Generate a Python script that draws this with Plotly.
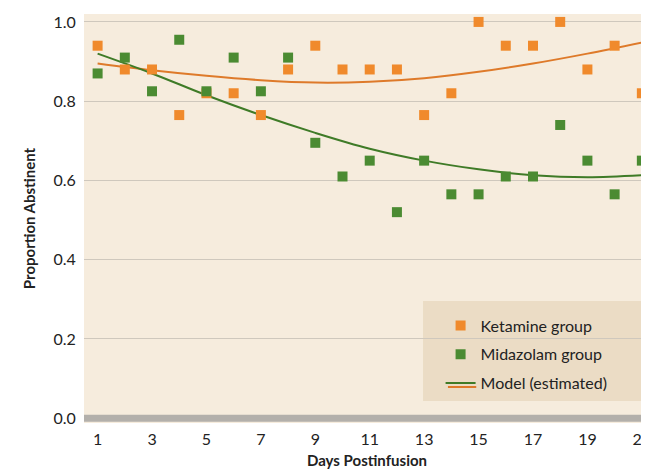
import plotly.graph_objects as go

days = list(range(1, 22))
ketamine = [0.94, 0.88, 0.88, 0.765, 0.82, 0.82, 0.765, 0.88, 0.94, 0.88, 0.88,
            0.88, 0.765, 0.82, 1.0, 0.94, 0.94, 1.0, 0.88, 0.94, 0.82]
midazolam = [0.87, 0.91, 0.825, 0.955, 0.825, 0.91, 0.825, 0.91, 0.695, 0.61, 0.65,
             0.52, 0.65, 0.565, 0.565, 0.61, 0.61, 0.74, 0.65, 0.565, 0.65]

model_days = [1, 3, 5, 7, 9, 11, 13, 15, 17, 19, 21]
ket_model = [0.895, 0.878, 0.864, 0.853, 0.847, 0.849, 0.858, 0.874, 0.895, 0.92, 0.948]
mid_model = [0.92, 0.87, 0.815, 0.765, 0.72, 0.68, 0.65, 0.628, 0.613, 0.608, 0.613]

orange = "#f08a2c"
green = "#4b8b32"
orange_line = "#de7a2a"
green_line = "#3f7b27"

fig = go.Figure()
fig.add_trace(go.Scatter(x=model_days, y=ket_model, mode="lines", line=dict(color=orange_line, width=2, shape="spline"),
                         showlegend=False))
fig.add_trace(go.Scatter(x=model_days, y=mid_model, mode="lines", line=dict(color=green_line, width=2, shape="spline"),
                         showlegend=False))
fig.add_trace(go.Scatter(x=days, y=ketamine, mode="markers", name="Ketamine group", legendgroup="a",
                         marker=dict(symbol="square", size=10, color=orange)))
fig.add_trace(go.Scatter(x=days, y=midazolam, mode="markers", name="Midazolam group", legendgroup="b",
                         marker=dict(symbol="square", size=10, color=green)))
fig.add_trace(go.Scatter(x=[None], y=[None], mode="lines", name="Model (estimated)", legendgroup="c",
                         line=dict(color=green_line, width=2)))

fig.add_shape(type="line", xref="paper", x0=0, x1=1, y0=0, y1=0, line=dict(color="#b3b0ab", width=7))
# legend box
fig.add_shape(type="rect", xref="paper", yref="paper", x0=0.599, x1=1, y0=0.054, y1=0.298,
              fillcolor="#ebdcc5", line=dict(width=0), layer="below")
# orange model swatch under the green one
fig.add_shape(type="line", xref="paper", yref="paper", x0=0.643, x1=0.693, y0=0.088, y1=0.088,
              line=dict(color=orange_line, width=2))

fig.update_layout(
    width=649, height=475,
    margin=dict(l=76, r=7, t=6, b=60),
    paper_bgcolor="white", plot_bgcolor="#f6ecdd",
    font=dict(family="Lato", size=16, color="#222"),
    xaxis=dict(range=[0.5, 21.3], tickvals=list(range(1, 22, 2)), showgrid=False, zeroline=False,
               automargin=False,
               title=dict(text="<b>Days Postinfusion</b>", font=dict(size=15), standoff=8),
               ticks="outside", ticklen=2, tickcolor="rgba(0,0,0,0)"),
    yaxis=dict(range=[-0.012, 1.02], tickvals=[0, 0.2, 0.4, 0.6, 0.8, 1.0], tickformat=".1f",
               gridcolor="#cfc8bd", gridwidth=1, zeroline=False, automargin=False,
               ticks="outside", ticklen=4, tickcolor="rgba(0,0,0,0)",
               title=dict(text="<b>Proportion Abstinent</b>", font=dict(size=15), standoff=14)),
    legend=dict(x=0.63, y=0.28, xanchor="left", yanchor="top", bgcolor="rgba(0,0,0,0)",
                font=dict(size=16), borderwidth=0, itemwidth=30, tracegroupgap=5),
)
fig.write_html("out.html")
